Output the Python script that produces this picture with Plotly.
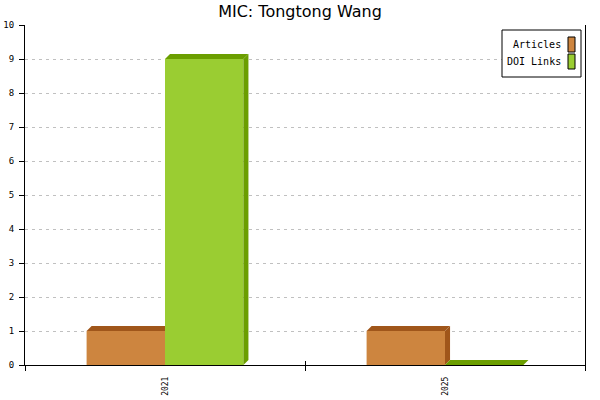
import plotly.graph_objects as go

# data
years = ["2021", "2025"]
articles = [1, 1]
doi_links = [9, 0]
series_names = ["Articles", "DOI Links"]
y_ticks = list(range(0, 11))

# colours: front face, top/side (shade)
front_colors = ["#CD853F", "#9ACD32"]
shade_colors = ["#A0561A", "#6B9E00"]

# pseudo-3D geometry in data units
half_w = 0.28      # width of each bar in category units
dx = 0.018         # depth offset along x
dy = 0.147         # depth offset along y

fig = go.Figure()


def poly(xs, ys, color):
    fig.add_trace(go.Scatter(
        x=xs + [xs[0]], y=ys + [ys[0]],
        mode="lines", fill="toself",
        fillcolor=color, line=dict(width=0, color=color),
        hoverinfo="skip", showlegend=False
    ))


for s, values in enumerate([articles, doi_links]):
    for i, v in enumerate(values):
        x0 = i - half_w + s * half_w
        x1 = x0 + half_w
        # front face
        if v > 0:
            poly([x0, x1, x1, x0], [0, 0, v, v], front_colors[s])
            # right side
            poly([x1, x1 + dx, x1 + dx, x1], [0, dy, v + dy, v], shade_colors[s])
        # top face
        poly([x0, x0 + dx, x1 + dx, x1], [v, v + dy, v + dy, v], shade_colors[s])

# dummy traces so the overlay axes get drawn
fig.add_trace(go.Scatter(x=[0, 1], y=[0, 0], xaxis="x2", mode="none",
                         hoverinfo="skip", showlegend=False))
fig.add_trace(go.Scatter(x=[0, 1], y=[0, 0], xaxis="x3", mode="none",
                         hoverinfo="skip", showlegend=False))

mono = "DejaVu Sans Mono"
bounds = [-0.5, 0.5, 1.5]

fig.update_layout(
    width=600, height=400,
    margin=dict(l=25, r=15, t=25, b=35, autoexpand=False),
    plot_bgcolor="white", paper_bgcolor="white",
    title=dict(text="MIC: Tongtong Wang", x=0.5, xanchor="center",
               y=0.972, yanchor="middle", automargin=False,
               font=dict(family="DejaVu Sans", size=16, color="black")),
    showlegend=False,
    xaxis=dict(
        range=[-0.5, 1.5], tickmode="array", tickvals=bounds,
        ticktext=["", "", ""], ticks="outside", ticklen=5,
        tickcolor="black", tickwidth=1, automargin=False,
        showline=True, linecolor="black", linewidth=1,
        showgrid=False, zeroline=False, fixedrange=True
    ),
    xaxis2=dict(
        overlaying="x", matches="x", anchor="y", side="bottom",
        tickmode="array", tickvals=bounds, ticktext=["", "", ""],
        ticks="inside", ticklen=4, tickcolor="black", tickwidth=1,
        automargin=False,
        showline=False, showgrid=False, zeroline=False
    ),
    xaxis3=dict(
        overlaying="x", matches="x", anchor="y", side="bottom",
        tickmode="array", tickvals=[0, 1], ticktext=years,
        ticks="", tickangle=-90, ticklabelstandoff=9, automargin=False,
        tickfont=dict(family=mono, size=8, color="black"),
        showline=False, showgrid=False, zeroline=False
    ),
    yaxis=dict(
        range=[0, 10], tickmode="array", tickvals=y_ticks,
        ticks="outside", ticklen=5, tickcolor="black", tickwidth=1,
        tickfont=dict(family=mono, size=9, color="black"),
        ticklabelstandoff=3, automargin=False,
        showline=True, linecolor="black", linewidth=1, mirror=True,
        showgrid=True, gridcolor="#c0c0c0", griddash="3px,4px", gridwidth=1,
        zeroline=False, fixedrange=True
    ),
)

# legend drawn by hand: text on the left, swatch on the right
fig.add_shape(type="rect", xref="paper", yref="paper",
              x0=(502 - 25) / 560, x1=(581 - 25) / 560,
              y0=(365 - 77) / 340, y1=(365 - 30) / 340,
              line=dict(color="black", width=1), fillcolor="white")
legend_rows = [(37, 52), (54, 69)]
for k, name in enumerate(series_names):
    top, bot = legend_rows[k]
    fig.add_shape(type="rect", xref="paper", yref="paper",
                  x0=(568 - 25) / 560, x1=(575 - 25) / 560,
                  y0=(365 - bot) / 340, y1=(365 - top) / 340,
                  line=dict(color="black", width=1),
                  fillcolor=front_colors[k])
    fig.add_annotation(xref="paper", yref="paper",
                       x=(563 - 25) / 560, y=(365 - (top + bot) / 2) / 340,
                       text=name, showarrow=False,
                       xanchor="right", yanchor="middle",
                       font=dict(family=mono, size=10, color="black"))

# the page body has a default 8px margin; remove it so the chart sits at 0,0
fig.write_html("out.html", config={"displayModeBar": False},
               post_script="document.body.style.margin='0';")
